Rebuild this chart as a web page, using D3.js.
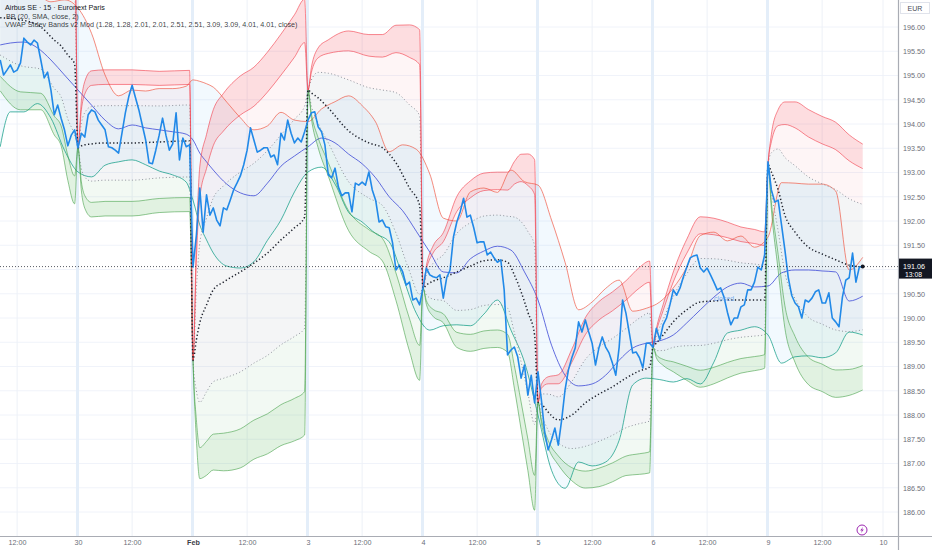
<!DOCTYPE html>
<html>
<head>
<meta charset="utf-8">
<script src="https://cdn.jsdelivr.net/npm/d3@7"></script>
<style>
  body { margin: 0; background: #fff; }
  svg { display: block; font-family: "Liberation Sans", Arial, sans-serif; }
</style>
</head>
<body>
<div id="chart"></div>
<script>
// 15 min bars, 34 per session; bar 0 = first bar of Jan 30
const closeFirstBar = -23;
const closes = [
  // Jan 29 (partial)
  195.32, 195.01, 195.11, 195.22, 195.07, 195.11, 195.26, 195.77, 195.69, 195.63, 195.73, 195.67,
  195.32, 194.95, 195.07, 194.70, 194.19, 194.39, 194.12, 193.88, 193.55, 193.77, 193.88,
  // Jan 30
  193.51, 193.81, 193.73, 194.19, 194.29, 194.25, 194.08, 193.98, 193.88, 193.53, 193.51, 193.46,
  193.40, 193.81, 194.23, 194.56, 194.80, 194.54, 194.29, 193.98, 193.67, 193.20, 193.18, 193.46,
  193.77, 194.12, 193.77, 193.46, 193.59, 194.23, 193.26, 193.71, 193.53, 193.57,
  // Feb 1
  191.05, 191.71, 192.68, 191.77, 192.54, 192.12, 192.27, 192.02, 191.90, 192.27, 192.23, 192.43,
  192.64, 192.78, 192.93, 193.16, 193.46, 193.92, 193.67, 193.42, 193.46, 193.51, 193.51, 193.32,
  193.36, 193.16, 193.81, 193.67, 194.08, 193.81, 193.61, 193.71, 193.63, 193.84,
  // Feb 3
  194.08, 194.23, 194.25, 193.94, 193.84, 193.57, 192.95, 192.89, 193.09, 192.70, 192.52, 192.58,
  192.58, 192.19, 192.78, 192.74, 192.80, 192.74, 193.01, 192.64, 192.43, 191.98, 192.02, 191.88,
  191.86, 191.55, 190.99, 191.09, 190.95, 190.68, 190.74, 190.37, 190.41, 190.27,
  // Feb 4
  190.62, 191.03, 190.89, 190.85, 190.83, 190.89, 190.41, 190.83, 190.99, 191.67, 191.98, 192.19,
  192.47, 192.08, 192.12, 191.86, 191.55, 191.57, 191.57, 191.30, 191.36, 191.24, 191.15, 191.20,
  190.58, 189.24, 189.34, 189.40, 189.20, 188.76, 189.03, 188.41, 188.82, 188.25,
  // Feb 5
  188.89, 188.31, 187.63, 187.28, 187.49, 187.73, 187.38, 187.90, 188.52, 188.93, 189.18, 189.38,
  189.92, 189.71, 189.96, 189.71, 189.48, 189.03, 189.38, 189.61, 189.40, 189.28, 189.07, 188.82,
  189.40, 190.37, 190.10, 189.69, 189.28, 189.30, 189.18, 188.97, 189.48, 189.48,
  // Feb 6
  189.40, 189.79, 189.55, 189.86, 190.00, 190.27, 190.58, 190.47, 190.62, 190.85, 191.05, 191.24,
  191.28, 191.30, 191.03, 190.95, 191.03, 190.89, 190.74, 190.58, 190.62, 190.43, 190.12, 189.86,
  190.00, 190.00, 190.23, 190.27, 190.58, 190.58, 190.74, 191.05, 190.99, 191.30,
  // Feb 9
  193.22, 192.64, 192.39, 192.43, 191.92, 191.40, 190.83, 190.47, 190.31, 190.23, 190.00, 190.37,
  190.33, 190.41, 190.54, 190.58, 190.31, 190.31, 190.52, 190.00, 189.92, 189.82, 190.43, 190.78,
  190.83, 191.34, 190.74, 191.05, 191.06
];
const lastPrice = 191.06;
const lastLabelTime = '13:08';

// Bollinger Bands (20, SMA, close, 2): basis and distance to the bands
const bbBars = [-23, -20, -16, -12, -8, -4, 0, 4, 8, 12, 16, 20, 24, 28, 32, 34, 36, 38, 40, 44, 48, 52,
  56, 60, 64, 68, 72, 76, 80, 84, 88, 92, 96, 100, 104, 108, 112, 116, 120, 124, 128, 132, 136, 140,
  144, 148, 152, 156, 160, 164, 168, 172, 176, 180, 184, 188, 192, 196, 200, 204, 208, 212, 216, 220,
  224, 228, 232];
const bbBasis = [195.63, 195.67, 195.69, 195.57, 195.32, 195.01, 194.70, 194.39, 194.08, 193.90, 193.98,
  193.92, 193.88, 193.84, 193.79, 193.67, 193.40, 193.22, 193.05, 192.76, 192.58, 192.52, 192.78, 193.13,
  193.34, 193.53, 193.71, 193.61, 193.38, 193.18, 192.89, 192.50, 192.21, 191.79, 191.36, 190.95, 190.93,
  191.22, 191.38, 191.48, 191.40, 190.95, 190.37, 189.44, 188.82, 188.60, 188.64, 188.82, 189.13, 189.38,
  189.48, 189.53, 189.65, 189.90, 190.17, 190.43, 190.64, 190.72, 190.64, 190.66, 190.93, 190.99, 190.99,
  190.97, 190.95, 190.35, 190.45];
const bbWidth = [2.10, 1.42, 1.44, 1.15, 1.20, 1.55, 1.69, 1.48, 0.93, 0.68, 0.72, 0.76, 0.85, 0.89, 0.99,
  1.24, 1.48, 1.61, 1.71, 1.69, 1.55, 1.36, 1.18, 1.11, 0.74, 0.52, 0.60, 0.85, 1.20, 1.20, 1.15, 0.93,
  1.36, 1.69, 1.61, 1.11, 1.07, 1.38, 1.30, 1.11, 1.65, 1.86, 2.37, 2.58, 2.33, 1.57, 1.69, 1.79, 1.65,
  0.76, 0.72, 0.80, 0.97, 1.15, 1.53, 1.34, 0.95, 0.97, 0.82, 1.01, 1.86, 1.79, 1.77, 1.79, 1.67, 0.64,
  0.80];

// VWAP Stdev Bands: session VWAP and its standard deviation (resets every session)
const vwapBars = [
  -23, -17, -11, -7, -5, -3, -1,
  0, 1, 2, 4, 8, 16, 24, 33,
  34, 35, 36, 38, 40, 43, 48, 52, 56, 60, 64, 67,
  68, 69, 71, 74, 80, 86, 90, 94, 98, 101,
  102, 103, 105, 108, 112, 116, 120, 124, 127, 129, 131, 133, 135,
  136, 137, 139, 142, 146, 150, 154, 158, 162, 166, 169,
  170, 171, 173, 176, 180, 184, 188, 192, 196, 200, 203,
  204, 205, 207, 209, 212, 216, 220, 224, 228, 232
];
const vwapPrices = [
  196.19, 196.15, 196.00, 195.73, 195.61, 195.42, 195.24,
  193.51, 193.55, 193.57, 193.59, 193.61, 193.61, 193.63, 193.65,
  189.13, 189.55, 189.90, 190.27, 190.58, 190.74, 190.95, 191.13, 191.34, 191.61, 191.86, 192.08,
  194.70, 194.64, 194.54, 194.33, 193.86, 193.61, 193.51, 193.20, 192.68, 192.33,
  190.62, 190.68, 190.76, 190.83, 190.95, 191.07, 191.18, 191.20, 191.15, 190.89, 190.54, 190.12, 189.65,
  188.27, 188.23, 188.06, 187.90, 188.00, 188.25, 188.43, 188.58, 188.76, 188.91, 188.99,
  189.40, 189.48, 189.65, 189.92, 190.17, 190.33, 190.35, 190.37, 190.37, 190.37, 190.37,
  193.16, 193.01, 192.64, 192.12, 191.77, 191.46, 191.32, 191.20, 191.09, 191.05
];
const vwapSigma = [
  0.60, 0.74, 0.68, 0.78, 0.82, 1.03, 1.15,
  0, 0.37, 0.52, 0.60, 0.60, 0.60, 0.58, 0.58,
  0, 0.82, 1.28, 1.40, 1.48, 1.55, 1.61, 1.61, 1.65, 1.69, 1.75, 1.79,
  0, 0.21, 0.41, 0.56, 0.82, 0.89, 0.93, 1.13, 1.34, 1.44,
  0, 0.16, 0.29, 0.37, 0.62, 0.70, 0.72, 0.72, 0.74, 0.93, 1.13, 1.30, 1.44,
  0, 0.16, 0.29, 0.37, 0.54, 0.70, 0.76, 0.78, 0.80, 0.85, 0.87,
  0, 0.12, 0.25, 0.41, 0.58, 0.70, 0.68, 0.64, 0.60, 0.58, 0.56,
  0, 0.31, 0.66, 0.93, 1.07, 1.13, 1.13, 1.13, 1.07, 1.01
];
// multipliers shown on the chart (3.09 / 4.01 are listed in the legend but not plotted)
const bandMults = [1.28, 2.01, 2.51];

const priceTicks = [186.00, 186.50, 187.00, 187.50, 188.00, 188.50, 189.00, 189.50, 190.00, 190.50,
  191.50, 192.00, 192.50, 193.00, 193.50, 194.00, 194.50, 195.00, 195.50, 196.00];
const gridPrices = priceTicks.concat([191.00]);
const timeTickBars = [-18, 0, 16, 34, 50, 68, 84, 102, 118, 136, 152, 170, 186, 204, 220, 238];
const timeTickLabels = ['12:00', '30', '12:00', 'Feb', '12:00', '3', '12:00', '4', '12:00', '5',
  '12:00', '6', '12:00', '9', '12:00', '10'];
const sessionStartBars = [0, 34, 68, 102, 136, 170, 204];

const legendLines = [
  'Airbus SE · 15 · Euronext Paris',
  'BB (20, SMA, close, 2)',
  'VWAP Stdev Bands v2 Mod (1.28, 1.28, 2.01, 2.01, 2.51, 2.51, 3.09, 3.09, 4.01, 4.01, close)'
];

const width = 932;
const height = 550;
const paneRight = 898;
const paneBottom = 536;

const svg = d3.select('#chart')
    .append('svg')
    .attr('width', width)
    .attr('height', height);

svg.append('rect').attr('width', width).attr('height', height).attr('fill', '#fff');

const x = d3.scaleLinear().domain([0, 238]).range([78, 883]);
const y = d3.scaleLinear().domain([186, 196]).range([512, 27]);

svg.append('clipPath').attr('id', 'pane')
    .append('rect').attr('x', 0).attr('y', 0).attr('width', paneRight).attr('height', paneBottom);

const pane = svg.append('g').attr('clip-path', 'url(#pane)');

// grid
pane.append('g').selectAll('line')
    .data(gridPrices)
    .enter().append('line')
    .attr('x1', 0).attr('x2', paneRight)
    .attr('y1', d => y(d)).attr('y2', d => y(d))
    .attr('stroke', '#f0f3fa').attr('stroke-width', 1);

pane.append('g').selectAll('line')
    .data(timeTickBars.filter(b => !sessionStartBars.includes(b)))
    .enter().append('line')
    .attr('x1', d => x(d)).attr('x2', d => x(d))
    .attr('y1', 0).attr('y2', paneBottom)
    .attr('stroke', '#eef1f7').attr('stroke-width', 1);

pane.append('g').selectAll('line')
    .data(sessionStartBars)
    .enter().append('line')
    .attr('x1', d => x(d) - 0.5).attr('x2', d => x(d) - 0.5)
    .attr('y1', 0).attr('y2', paneBottom)
    .attr('stroke', '#e4eef9').attr('stroke-width', 3);

// data rows
const priceData = closes.map((c, i) => ({ bar: closeFirstBar + i, close: c }));
const bbData = bbBars.map((b, i) => ({ bar: b, basis: bbBasis[i], dev: bbWidth[i] }));
const vwapData = vwapBars.map((b, i) => ({ bar: b, vwap: vwapPrices[i], sd: vwapSigma[i] }));

const smooth = d3.curveMonotoneX;

// Bollinger fill
pane.append('path')
    .datum(bbData)
    .attr('d', d3.area().curve(smooth)
        .x(d => x(d.bar))
        .y0(d => y(d.basis + d.dev))
        .y1(d => y(d.basis - d.dev)))
    .attr('fill', 'rgba(33,150,243,0.06)');

// VWAP band fills
function bandArea(k0, k1) {
    return d3.area().curve(smooth)
        .x(d => x(d.bar))
        .y0(d => y(d.vwap + k0 * d.sd))
        .y1(d => y(d.vwap + k1 * d.sd));
}

const bandFills = [
    { k0: -bandMults[0], k1: bandMults[0], color: 'rgba(120,123,134,0.08)' },
    { k0: bandMults[0], k1: bandMults[1], color: 'rgba(242,54,69,0.05)' },
    { k0: bandMults[1], k1: bandMults[2], color: 'rgba(242,54,69,0.17)' },
    { k0: -bandMults[0], k1: -bandMults[1], color: 'rgba(76,175,80,0.07)' },
    { k0: -bandMults[1], k1: -bandMults[2], color: 'rgba(76,175,80,0.17)' }
];

bandFills.forEach(f => {
    pane.append('path')
        .datum(vwapData)
        .attr('d', bandArea(f.k0, f.k1))
        .attr('fill', f.color);
});

// Bollinger lines
const bbLines = [
    { fn: d => d.basis, color: '#3f4bd8', opacity: 0.9 },
    { fn: d => d.basis + d.dev, color: '#f0533f', opacity: 0.75 },
    { fn: d => d.basis - d.dev, color: '#089981', opacity: 0.8 }
];
bbLines.forEach(l => {
    pane.append('path')
        .datum(bbData)
        .attr('d', d3.line().curve(smooth).x(d => x(d.bar)).y(d => y(l.fn(d))))
        .attr('fill', 'none')
        .attr('stroke', l.color)
        .attr('stroke-opacity', l.opacity)
        .attr('stroke-width', 0.9);
});

// VWAP band lines
function bandLine(k) {
    return d3.line().curve(smooth).x(d => x(d.bar)).y(d => y(d.vwap + k * d.sd));
}

[-1, 1].forEach(side => {
    pane.append('path')
        .datum(vwapData)
        .attr('d', bandLine(side * bandMults[0]))
        .attr('fill', 'none')
        .attr('stroke', '#8f939c')
        .attr('stroke-width', 1)
        .attr('stroke-dasharray', '1 2.4');

    bandMults.slice(1).forEach(k => {
        pane.append('path')
            .datum(vwapData)
            .attr('d', bandLine(side * k))
            .attr('fill', 'none')
            .attr('stroke', side > 0 ? '#f23645' : '#43a047')
            .attr('stroke-opacity', 0.65)
            .attr('stroke-width', 0.9);
    });
});

pane.append('path')
    .datum(vwapData)
    .attr('d', bandLine(0))
    .attr('fill', 'none')
    .attr('stroke', '#1e222d')
    .attr('stroke-width', 1.5)
    .attr('stroke-dasharray', '1.3 2.3');

// price
pane.append('path')
    .datum(priceData)
    .attr('d', d3.line().x(d => x(d.bar)).y(d => y(d.close)))
    .attr('fill', 'none')
    .attr('stroke', '#2189e8')
    .attr('stroke-width', 1.6)
    .attr('stroke-linejoin', 'round');

// last price line + marker
pane.append('line')
    .attr('x1', 0).attr('x2', paneRight)
    .attr('y1', y(lastPrice)).attr('y2', y(lastPrice))
    .attr('stroke', '#131722')
    .attr('stroke-width', 0.7)
    .attr('stroke-dasharray', '1 2');

const lastBar = priceData[priceData.length - 1];
pane.append('circle')
    .attr('cx', x(lastBar.bar)).attr('cy', y(lastBar.close))
    .attr('r', 2).attr('fill', '#131722');

pane.append('text')
    .attr('x', 714).attr('y', 301)
    .attr('font-size', 7).attr('fill', '#5d9cec').attr('fill-opacity', 0.8)
    .text('closed');

// axes
const yAxis = d3.axisRight(y)
    .tickValues(priceTicks)
    .tickSize(0)
    .tickPadding(5)
    .tickFormat(d => d.toFixed(2));

svg.append('g')
    .attr('transform', `translate(${paneRight},0)`)
    .call(yAxis)
    .call(g => g.select('.domain').remove())
    .call(g => g.selectAll('text')
        .attr('font-size', 7.2)
        .attr('fill', '#6b6e78')
        .attr('font-family', '"Liberation Sans", Arial, sans-serif'));

const xAxis = d3.axisBottom(x)
    .tickValues(timeTickBars)
    .tickSize(0)
    .tickPadding(4)
    .tickFormat((d, i) => timeTickLabels[i]);

svg.append('g')
    .attr('transform', `translate(0,${paneBottom})`)
    .call(xAxis)
    .call(g => g.select('.domain').remove())
    .call(g => g.selectAll('text')
        .attr('font-size', 7.2)
        .attr('fill', d => d === 34 ? '#3b3e47' : '#6b6e78')
        .attr('font-weight', d => d === 34 ? 'bold' : 'normal')
        .attr('font-family', '"Liberation Sans", Arial, sans-serif'));

svg.append('line')
    .attr('x1', 0).attr('x2', width)
    .attr('y1', paneBottom + 0.5).attr('y2', paneBottom + 0.5)
    .attr('stroke', '#a9acb4').attr('stroke-width', 1);

svg.append('line')
    .attr('x1', paneRight + 0.5).attr('x2', paneRight + 0.5)
    .attr('y1', 0).attr('y2', height)
    .attr('stroke', '#a9acb4').attr('stroke-width', 1.2);

// currency box
svg.append('rect')
    .attr('x', 900.5).attr('y', 2.5).attr('width', 29).attr('height', 11)
    .attr('fill', '#fff').attr('stroke', '#e0e3eb');
svg.append('text')
    .attr('x', 915).attr('y', 10.5).attr('text-anchor', 'middle')
    .attr('font-size', 7).attr('fill', '#4a4d57')
    .text('EUR');

// last price label
svg.append('rect')
    .attr('x', paneRight + 1).attr('y', y(lastPrice) - 8)
    .attr('width', width - paneRight - 1).attr('height', 20)
    .attr('fill', '#131722');
svg.append('text')
    .attr('x', 903).attr('y', y(lastPrice) + 2)
    .attr('font-size', 7.2).attr('fill', '#fff')
    .text(lastPrice.toFixed(2));
svg.append('text')
    .attr('x', 905).attr('y', y(lastPrice) + 10)
    .attr('font-size', 6.8).attr('fill', '#fff')
    .text(lastLabelTime);

// bolt badge
const badge = svg.append('g').attr('transform', 'translate(862,530)');
badge.append('circle').attr('r', 5).attr('fill', '#fff').attr('stroke', '#9c27b0').attr('stroke-width', 1);
badge.append('path')
    .attr('d', 'M1.2,-3.2 L-1.8,0.4 L0,0.4 L-1.2,3.2 L1.8,-0.6 L0,-0.6 Z')
    .attr('fill', '#9c27b0');

// legend
svg.append('g').selectAll('text')
    .data(legendLines)
    .enter().append('text')
    .attr('x', (d, i) => i === 1 ? 6 : 5)
    .attr('y', (d, i) => 10 + i * 8.5)
    .attr('font-size', 7.2)
    .attr('fill', '#131722')
    .attr('fill-opacity', (d, i) => i === 0 ? 1 : 0.85)
    .text(d => d);
</script>
</body>
</html>
